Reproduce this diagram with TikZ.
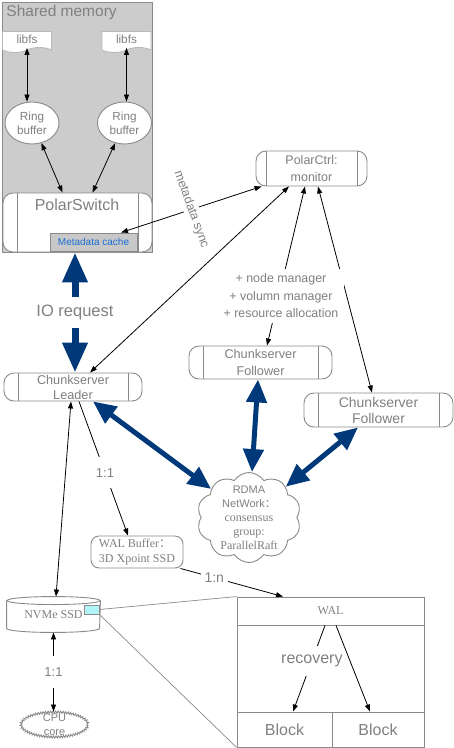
\documentclass[tikz,border=0pt]{standalone}
\usepackage{fontspec}
\setmainfont{Liberation Sans}
\newfontfamily\timesfont{Liberation Serif}
\newfontfamily\cjkfont{Noto Sans CJK SC}
\usetikzlibrary{arrows.meta,shapes.geometric,shapes.symbols,decorations.pathmorphing}

\definecolor{shmgray}{HTML}{CCCCCC}
\definecolor{boxgray}{HTML}{8A8A8A}
\definecolor{txtgray}{HTML}{808080}
\definecolor{cachegray}{HTML}{C8C8C8}
\definecolor{cacheblue}{RGB}{25,110,210}
\definecolor{iblue}{RGB}{0,57,122}
\definecolor{ssdcyan}{HTML}{B2F5F8}

\tikzset{
  proc/.style={draw=boxgray, fill=white, rounded corners=10pt, align=center, text=txtgray, inner sep=0pt,
    path picture={
      \draw[boxgray] ([xshift=#1]path picture bounding box.north west) -- ([xshift=#1]path picture bounding box.south west);
      \draw[boxgray] ([xshift=-#1]path picture bounding box.north east) -- ([xshift=-#1]path picture bounding box.south east);
    }},
  proc/.default=14pt,
  doc/.style={tape, tape bend top=none, tape bend height=5pt, draw=boxgray!60, fill=white, text=txtgray,
    minimum width=49pt, minimum height=21pt, inner sep=0pt, font=\fontsize{11.8pt}{14pt}\selectfont},
  ring/.style={ellipse, draw=boxgray, fill=white, text=txtgray, align=center, minimum width=54pt,
    minimum height=42pt, inner sep=0pt, font=\fontsize{11.7pt}{14pt}\selectfont},
  link/.style={black, line width=0.8pt, <->},
  fat/.style={iblue, line width=5pt, {Triangle[length=23pt,width=20pt]}-{Triangle[length=23pt,width=20pt]}},
  fatio/.style={iblue, line width=7pt, {Triangle[length=30pt,width=24pt]}-{Triangle[length=30pt,width=24pt]}},
  lbl/.style={fill=white, text=txtgray, inner sep=2pt},
  plain/.style={draw=boxgray, text=txtgray, inner sep=0pt}
}

\begin{document}
\begin{tikzpicture}[x=1pt, y=-1pt, line width=0.9pt, >={Triangle[length=7pt,width=5pt]}]
\useasboundingbox (0,0) rectangle (454,748);

% Draw the shared memory block
\node[draw=boxgray, fill=shmgray, minimum width=150pt, minimum height=250pt] (shm) at (77,127) {};
\node[anchor=base west, text=txtgray, inner sep=0pt, font=\fontsize{15.5pt}{18pt}\selectfont] (shmtxt) at (6,16) {Shared memory};

% PolarSwitch with its metadata cache
\node[proc, minimum width=149pt, minimum height=59pt] (switch) at (77.5,222.5) {};
\node[text=txtgray, font=\fontsize{16pt}{19pt}\selectfont] (switchtxt) at (77,205) {PolarSwitch};
\node[plain, fill=cachegray, text=cacheblue, font=\fontsize{10pt}{12pt}\selectfont,
  minimum width=87pt, minimum height=18pt] (meta) at (93.5,242) {Metadata cache};

% libfs and ring buffer, one pair on each side
\foreach \n/\lx/\rx in {L/27/32, R/126.5/124.5}
{
  \node[doc] (libfs\n) at (\lx,39.5) {libfs};
  \node[ring] (ring\n) at (\rx,123) {Ring\\buffer};
  \draw[link] (libfs\n.south) -- (libfs\n.south |- ring\n.north);
}
\draw[link] (ringL.-65) -- ([xshift=-15pt]switch.north);
\draw[link] (ringR.-115) -- ([xshift=15pt]switch.north);

% PolarCtrl and the chunkservers
\node[proc=10pt, minimum width=111pt, minimum height=35pt, font=\fontsize{12.5pt}{17pt}\selectfont] (ctrl) at (311.5,168.5) {PolarCtrl:\\monitor};
\node[proc, minimum width=138pt, minimum height=28pt, font=\fontsize{12.7pt}{15pt}\selectfont] (leader) at (73,387) {Chunkserver\\Leader};
\node[proc, minimum width=143pt, minimum height=33pt, font=\fontsize{12.7pt}{17pt}\selectfont] (fol1) at (260.5,362.5) {Chunkserver\\Follower};
\node[proc, minimum width=149pt, minimum height=34pt, font=\fontsize{14pt}{16pt}\selectfont] (fol2) at (378.5,410) {Chunkserver\\Follower};

% metadata sync
\draw[link] ([xshift=27.5pt]meta.north) -- ([xshift=6pt]ctrl.south west)
  node[lbl, midway, rotate=-70, font=\fontsize{12.5pt}{15pt}\selectfont] {metadata sync};

% IO request
\draw[fatio] ([xshift=-2.5pt]switch.south) -- ([xshift=2pt]leader.north)
  node[lbl, midway, inner ysep=8pt, font=\fontsize{16.5pt}{20pt}\selectfont] {IO request};

% PolarCtrl manages every chunkserver
\draw[link] ([xshift=-22.5pt]ctrl.south) -- ([xshift=17pt]leader.north);
\draw[link] ([xshift=-6.5pt]ctrl.south) -- ([xshift=6.5pt]fol1.north);
\draw[link] ([xshift=6.5pt]ctrl.south) -- ([xshift=-6.5pt]fol2.north);
\node[lbl, align=center, inner xsep=6pt, inner ysep=5pt, font=\fontsize{12.4pt}{17.5pt}\selectfont] (mgr) at (281,296)
  {+ node manager\\+ volumn manager\\+ resource allocation};

% RDMA network cloud
\node[cloud, cloud puffs=10, cloud puff arc=115, draw=boxgray, fill=white, minimum width=104pt, minimum height=90pt, inner sep=0pt] (cloud) at (249,517.5) {};
\node[align=center, text=txtgray, inner sep=0pt, font=\fontsize{11pt}{14pt}\selectfont] (rdma) at (249,518)
  {RDMA\\NetWork{\cjkfont ：}\\{\timesfont\fontsize{12pt}{14pt}\selectfont consensus}\\{\timesfont\fontsize{12pt}{14pt}\selectfont group:}\\{\timesfont\fontsize{12pt}{14pt}\selectfont ParallelRaft}};
\draw[fat] ([xshift=20pt]leader.south) -- (cloud.143);
\draw[fat] ([xshift=-2.5pt]fol1.south) -- ([xshift=3pt]cloud.north);
\draw[fat] ([xshift=-20.5pt]fol2.south) -- (cloud.40);

% WAL buffer
\node[plain, rounded corners=8pt, fill=white, align=left, minimum width=92pt, minimum height=32pt,
  font=\timesfont\fontsize{12pt}{15pt}\selectfont] (walbuf) at (137,552) {WAL Buffer{\cjkfont ：}\\3D Xpoint SSD};
\draw[link, ->] ([xshift=6pt]leader.south) -- ([xshift=-9pt]walbuf.north)
  node[lbl, pos=0.53, inner ysep=11pt, font=\fontsize{13pt}{15pt}\selectfont] {1:1};

% NVMe SSD, drawn as a cylinder
\node[text=txtgray, minimum width=93pt, minimum height=35pt, inner sep=0pt, font=\timesfont\fontsize{12pt}{14pt}\selectfont] (nvme) at (53.5,614.5) {NVMe SSD};
\draw[boxgray] ([yshift=-4pt]nvme.north west) -- ([yshift=4pt]nvme.south west)
  arc[start angle=180, end angle=360, x radius=46.5pt, y radius=4pt] -- ([yshift=-4pt]nvme.north east);
\draw[boxgray] ([yshift=-4pt]nvme.north) ellipse[x radius=46.5pt, y radius=4pt];
\node[plain, fill=ssdcyan, minimum width=15pt, minimum height=9pt] (ssdcache) at (91.5,609.5) {};
\draw[link] ([xshift=-2pt]leader.south) -- ([xshift=2.5pt]nvme.north);

% CPU core
\node[ellipse, draw=boxgray, decorate, decoration={zigzag, segment length=2.5pt, amplitude=1pt},
  minimum width=67pt, minimum height=25pt, inner sep=0pt] (cpu) at (54.5,724.5) {};
\node[align=center, text=txtgray, inner sep=0pt, font=\fontsize{11pt}{14pt}\selectfont] (cputxt) at (54.5,725) {CPU\\core};
\draw[link] (nvme.south) -- (nvme.south |- cpu.north)
  node[lbl, midway, inner ysep=12pt, font=\fontsize{13pt}{15pt}\selectfont] {1:1};

% WAL and the blocks it recovers
\node[plain, minimum width=187pt, minimum height=150pt] (walbox) at (330.5,672) {};
\node[plain, minimum width=187pt, minimum height=28pt, font=\timesfont\fontsize{12pt}{14pt}\selectfont] (wal) at (330.5,611) {WAL};
\node[plain, minimum width=95pt, minimum height=35pt, font=\fontsize{16pt}{19pt}\selectfont] (blockL) at (284.5,729.5) {Block};
\node[plain, minimum width=92pt, minimum height=35pt, font=\fontsize{16pt}{19pt}\selectfont] (blockR) at (378,729.5) {Block};
\draw[link, ->] ([xshift=-5.5pt]wal.south) -- ([xshift=8.5pt]blockL.north)
  node[lbl, pos=0.41, inner xsep=1pt, inner ysep=9pt, font=\fontsize{16pt}{19pt}\selectfont] {recovery};
\draw[link, ->] ([xshift=5.5pt]wal.south) -- ([xshift=-8pt]blockR.north);
\draw[link, ->] ([xshift=-3pt]walbuf.south east) -- ([xshift=-47.5pt]wal.north)
  node[lbl, pos=0.33, inner xsep=4pt, font=\fontsize{14pt}{16pt}\selectfont] {1:n};

% zoom lines from the SSD to the WAL layout
\draw[boxgray, line width=0.7pt] (ssdcache.east) -- (walbox.north west);
\draw[boxgray, line width=0.7pt] (ssdcache.south east) -- (walbox.south west);

\end{tikzpicture}
\end{document}
